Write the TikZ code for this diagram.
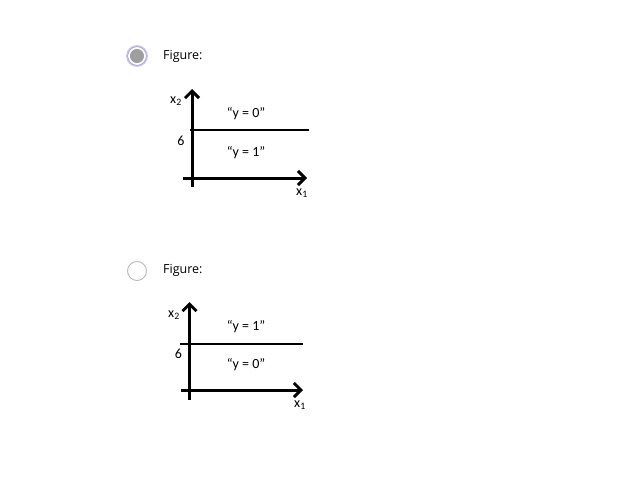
\documentclass[tikz,border=0pt]{standalone}
\usepackage{fontspec}
\setmainfont{Carlito}
\newfontfamily\uifont{Open Sans}
\usetikzlibrary{arrows.meta, positioning}

\begin{document}
\begin{tikzpicture}[x=1pt, y=-1pt,
    axis/.style={line width=3pt, -{Straight Barb[length=7pt, width=14pt]}},
    border/.style={line width=1.4pt},
    lbl/.style={inner sep=0pt, font=\fontsize{14}{16}\selectfont},
    tick/.style={inner sep=0pt, font=\fontsize{14}{16}\selectfont},
    caption/.style={inner sep=0pt, anchor=west, font=\uifont\fontsize{12.5}{14}\selectfont},
    radio/.style={circle, draw=gray!55, line width=0.9pt, fill=white, minimum size=19pt, inner sep=0pt},
    glow/.style={circle, fill=blue!22!white, minimum size=22pt, inner sep=0pt},
    checked/.style={circle, draw=white, line width=1.6pt, fill=gray!75, minimum size=16pt, inner sep=0pt}
  ]
    \path[use as bounding box] (0,0) rectangle (637,487);

    % first option (selected)
    \node[glow] (glowA) at (137,56) {};
    \node[circle, draw=gray!70, line width=0.6pt, minimum size=18.5pt, inner sep=0pt] (ringA) at (137,56) {};
    \node[checked] (radioA) at (137,56) {};
    \node[caption] (capA) at (163,56) {Figure:};

    \coordinate (ytopA) at (192,89);
    \coordinate (ybotA) at (192,187);
    \coordinate (xleftA) at (183,178);
    \coordinate (xendA) at (307,178);
    \coordinate (bleftA) at (190,130);
    \coordinate (brightA) at (309,130);

    \draw[axis] (ybotA) -- (ytopA);
    \draw[axis] (xleftA) -- (xendA);
    \draw[border] (bleftA) -- (brightA);

    \node[lbl] (x2A) at (176,101) {x\textsubscript{2}};
    \node[lbl] (x1A) at (302,193) {x\textsubscript{1}};
    \node[tick] (sixA) at (181,141) {6};
    \node[lbl] (upA) at (246,114) {“y = 0”};
    \node[lbl] (lowA) at (246,153) {“y = 1”};

    % second option
    \node[radio] (radioB) at (137,271) {};
    \node[caption] (capB) at (163,270) {Figure:};

    \coordinate (ytopB) at (189.5,302);
    \coordinate (ybotB) at (189.5,400);
    \coordinate (xleftB) at (181,390);
    \coordinate (xendB) at (303,390);
    \coordinate (bleftB) at (180,344);
    \coordinate (brightB) at (303,344);

    \draw[axis] (ybotB) -- (ytopB);
    \draw[axis] (xleftB) -- (xendB);
    \draw[border] (bleftB) -- (brightB);

    \node[lbl] (x2B) at (174,315) {x\textsubscript{2}};
    \node[lbl] (x1B) at (300,405) {x\textsubscript{1}};
    \node[tick] (sixB) at (178.5,354) {6};
    \node[lbl] (upB) at (246,327) {“y = 1”};
    \node[lbl] (lowB) at (246,365) {“y = 0”};
\end{tikzpicture}
\end{document}
